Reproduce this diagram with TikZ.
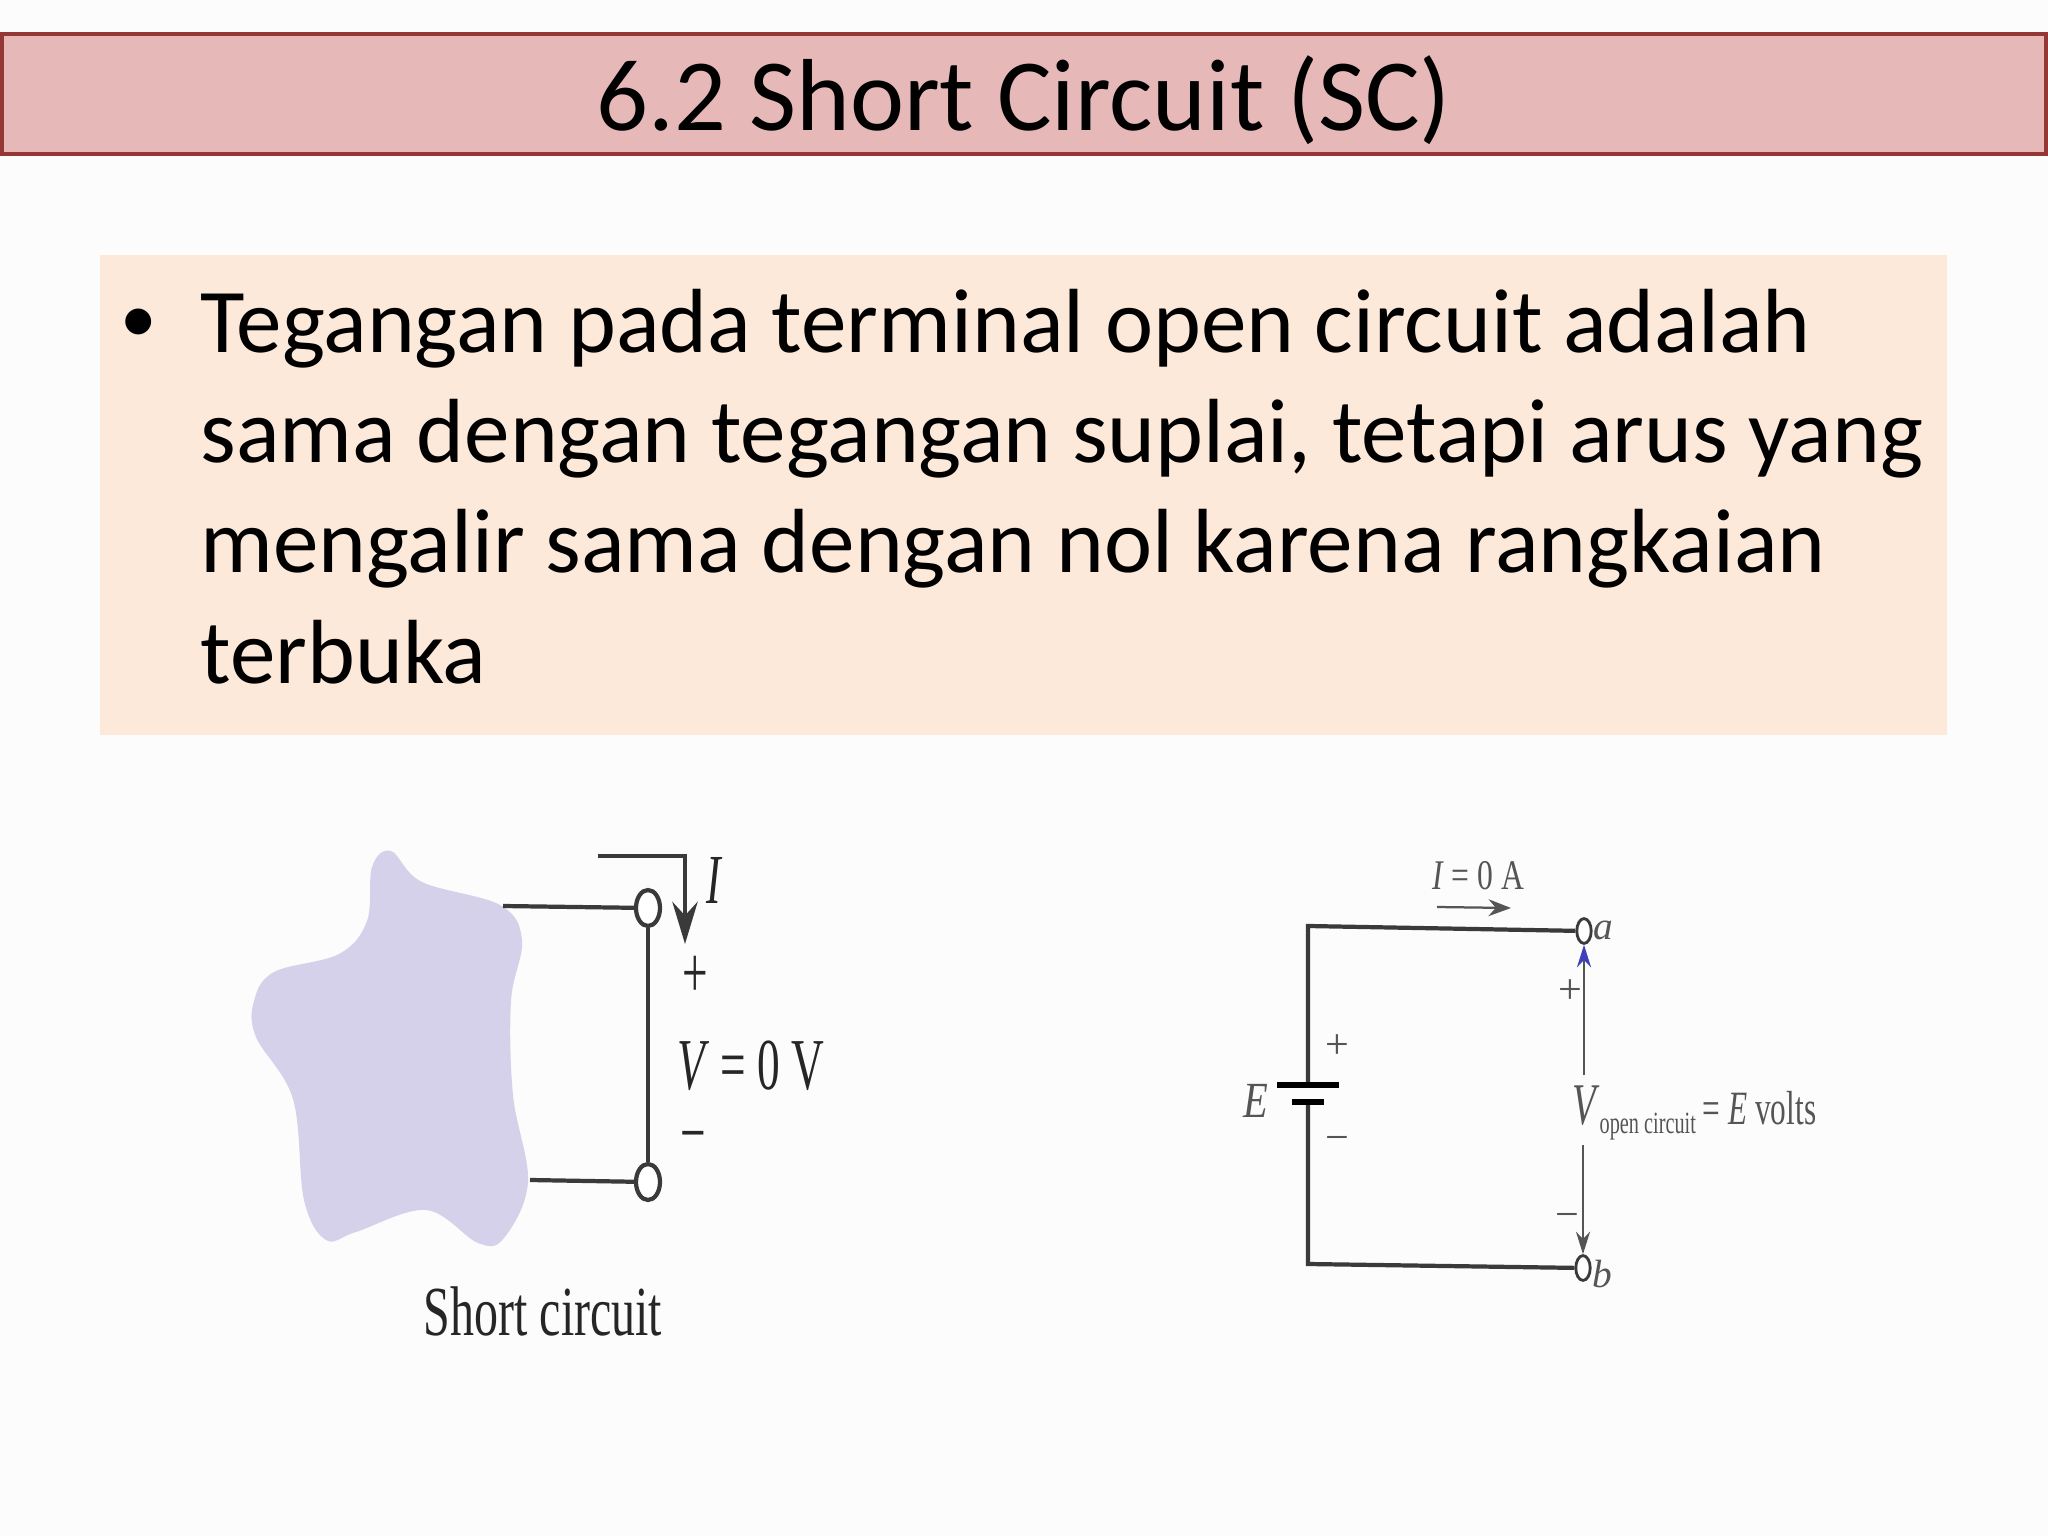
\documentclass[tikz,border=0pt]{standalone}
\usepackage{fontspec}
\setmainfont{Carlito}
\newfontfamily\figfont{Liberation Serif}
\usetikzlibrary{shapes}
\usetikzlibrary{arrows.meta}
\definecolor{bandred}{HTML}{E6B9B8}
\definecolor{banddark}{HTML}{953735}
\definecolor{panelpeach}{HTML}{FDE9D9}
\definecolor{blobviolet}{HTML}{D6D1EA}
\definecolor{wiregray}{HTML}{3A3A3A}
\definecolor{labelgray}{HTML}{555555}
\tikzset{
    bandnode/.style = {rectangle, draw=banddark, line width=1.7pt, fill=bandred, minimum width=25.55cm, minimum height=1.5cm, inner sep=0pt},
    titletext/.style = {inner sep=0pt, font=\fontsize{36.4}{44}\selectfont},
    panelnode/.style = {rectangle, fill=panelpeach, minimum width=23.09cm, minimum height=6cm, inner sep=0pt},
    bodytext/.style = {inner sep=0pt, align=left, anchor=north west, font=\fontsize{32.4}{39.2}\selectfont},
    termbig/.style = {ellipse, draw=wiregray, line width=1.5pt, fill=white, minimum width=0.3cm, minimum height=0.45cm, inner sep=0pt},
    termsmall/.style = {ellipse, draw=wiregray, line width=1pt, fill=white, minimum width=0.18cm, minimum height=0.31cm, inner sep=0pt},
    bigtext/.style = {inner sep=0pt, text=black!85, xscale=0.62, transform shape, font=\figfont\fontsize{26}{30}\selectfont},
    smalltext/.style = {inner sep=0pt, text=labelgray, font=\figfont\fontsize{15}{18}\selectfont},
    edgen/.style = {line width=1.5pt, draw=wiregray},
    edget/.style = {line width=0.8pt, draw=labelgray},
    plate/.style = {line width=2.4pt, draw=black},
}
\begin{document}
\begin{tikzpicture}[x=0.0125cm,y=-0.0125cm]
\useasboundingbox (0,0) rectangle (2048,1536);
\fill[black!1] (0,0) rectangle (2048,1536);

\node[bandnode] (band) at (1024,94) {};
\node[titletext] (title) at (1024,100) {6.2 Short Circuit (SC)};
\node[panelnode] (panel) at (1023.5,495) {};
\node[inner sep=0pt, font=\fontsize{26}{30}\selectfont] (bullet) at (139,326) {•};
\node[bodytext] (body) at (200,288.5) {Tegangan pada terminal open circuit adalah\\sama dengan tegangan suplai, tetapi arus yang\\mengalir sama dengan nol karena rangkaian\\terbuka};

% short circuit
\fill[blobviolet] plot[smooth cycle, tension=0.6] coordinates {(391,851) (422,882) (500,905) (522,940) (511,1001) (513,1095) (528,1182) (504,1238) (478,1243) (426,1210) (356,1232) (326,1240) (304,1200) (293,1099) (256,1037) (254,1001) (274,972) (339,954) (367,921) (372,867)};
\coordinate (blobt) at (503,906);
\coordinate (blobb) at (530,1180);
\node[termbig] (tt) at (648,908) {};
\node[termbig] (tb) at (648,1182) {};
\draw[edgen] (blobt) -- (tt);
\draw[edgen] (blobb) -- (tb);
\draw[edgen] (tt) -- (tb);
\coordinate (ia) at (598,856);
\coordinate (ib) at (685,856);
\coordinate (ic) at (685,944);
\draw[edgen,-{Stealth[length=15pt,width=9pt]}] (ia) -- (ib) -- (ic);
\node[bigtext,font=\figfont\itshape\fontsize{25}{30}\selectfont] (ilabel) at (714,880) {I};
\node[bigtext] (vplus) at (695,977) {+};
\node[bigtext] (vlabel) at (751,1066) {\textit{V} = 0 V};
\node[bigtext] (vminus) at (693,1144) {−};
\node[bigtext,font=\figfont\fontsize{25}{30}\selectfont,xscale=1.1] (sclabel) at (543,1311) {Short circuit};

% open circuit
\coordinate (bl) at (1308,926);
\coordinate (br) at (1308,1264);
\node[termsmall] (ta) at (1584,931) {};
\node[termsmall] (tc) at (1583,1268) {};
\node[inner sep=0pt, minimum width=0.76cm, minimum height=0pt] (plus) at (1308,1085) {};
\node[inner sep=0pt, minimum width=0.39cm, minimum height=0pt] (minus) at (1308,1102) {};
\draw[edgen] (ta) -- (bl) -- (plus.center);
\draw[edgen] (tc) -- (br) -- (minus.center);
\draw[plate] (plus.west) -- (plus.east);
\draw[plate] (minus.west) -- (minus.east);
\node[smalltext,font=\figfont\itshape\fontsize{14}{17}\selectfont] (alabel) at (1603,930) {a};
\node[smalltext,font=\figfont\itshape\fontsize{14}{17}\selectfont] (blabel) at (1602,1274) {b};
\node[smalltext,font=\figfont\itshape\fontsize{18}{22}\selectfont,xscale=0.8,transform shape] (elabel) at (1256,1101) {E};
\node[smalltext] (eplus) at (1337,1047) {+};
\node[smalltext] (eminus) at (1337,1144) {−};
\node[smalltext,xscale=0.75,transform shape] (ilab) at (1478,876) {\textit{I} = 0 A};
\coordinate (ca) at (1437,907);
\coordinate (cb) at (1511,908);
\draw[edget,-{Stealth[length=8pt,width=6pt]}] (ca) -- (cb);
\node[smalltext,anchor=west,xscale=0.655,transform shape] (vopen) at (1572,1113) {{\fontsize{21}{24}\selectfont\textit{V}}\raisebox{-0.5ex}{\fontsize{11}{12}\selectfont open circuit}\ {\fontsize{17}{20}\selectfont =\ \textit{E} volts}};
\draw[edget,-{Stealth[length=8pt,width=5pt,fill=blue!50!gray,color=blue!50!gray]}] (vopen.west -| ta) ++(0,-38) -- (ta);
\draw[edget,-{Stealth[length=8pt,width=5pt]}] (vopen.west -| tc) ++(0,32) -- (tc);
\node[smalltext] (vp) at (1570,992) {+};
\node[smalltext] (vm) at (1567,1221) {−};
\end{tikzpicture}
\end{document}
